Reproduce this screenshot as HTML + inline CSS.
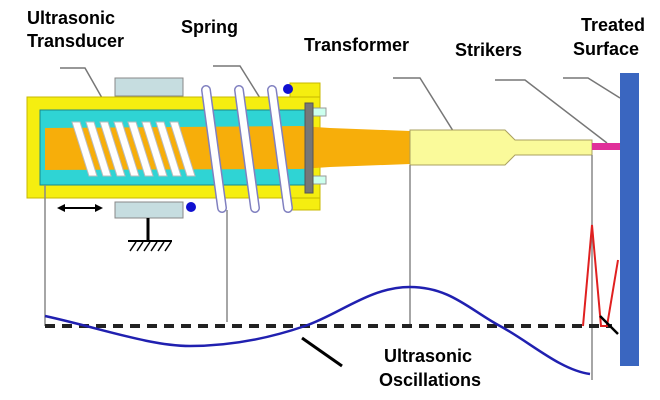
<!DOCTYPE html>
<html><head><meta charset="utf-8"><style>
html,body{margin:0;padding:0;background:#fff;}
svg{display:block;}
text{font-family:"Liberation Sans",Arial,sans-serif;font-weight:bold;font-size:18px;fill:#000;}
</style></head><body>
<svg width="660" height="400" viewBox="0 0 660 400" xmlns="http://www.w3.org/2000/svg">
<rect width="660" height="400" fill="#fff"/>
<g stroke="#777" stroke-width="1.5" fill="none">
<polyline points="60,68 85,68 110,112"/>
<polyline points="213,66 240,66 275,122"/>
<polyline points="393,78 420,78 455,134"/>
<polyline points="495,80 525,80 607,143"/>
<polyline points="563,78 588,78 620,98"/>
</g>
<rect x="115" y="78" width="68" height="18" fill="#c6dde0" stroke="#888"/>
<rect x="115" y="202" width="68" height="16" fill="#c6dde0" stroke="#888"/>
<rect x="290" y="83" width="30" height="127" fill="#f5ee10" stroke="#c8b800"/>
<rect x="27" y="97" width="293" height="101" fill="#f5ee10" stroke="#c8b800"/>
<rect x="40" y="110" width="270" height="75" fill="#2fd4d4" stroke="#1a8a8a"/>
<polygon points="45,128 300,126 330,128 410,131 410,164 330,167 300,169 45,170" fill="#f7ae0a"/>
<g stroke="#bbb" stroke-width="1" fill="#fff">
<polygon points="72,122 80,122 97,176 89,176"/>
<polygon points="86,122 94,122 111,176 103,176"/>
<polygon points="100,122 108,122 125,176 117,176"/>
<polygon points="114,122 122,122 139,176 131,176"/>
<polygon points="128,122 136,122 153,176 145,176"/>
<polygon points="142,122 150,122 167,176 159,176"/>
<polygon points="156,122 164,122 181,176 173,176"/>
<polygon points="170,122 178,122 195,176 187,176"/>
</g>
<rect x="312" y="108" width="14" height="8" fill="#cfe" stroke="#999"/>
<rect x="312" y="176" width="14" height="8" fill="#cfe" stroke="#999"/>
<rect x="305" y="103" width="8" height="90" fill="#777" stroke="#555"/>
<g fill="none" stroke="#8080c0" stroke-width="10" stroke-linecap="round">
<line x1="206" y1="90" x2="222" y2="208"/>
<line x1="239" y1="90" x2="255" y2="208"/>
<line x1="272" y1="90" x2="288" y2="208"/>
</g>
<g fill="none" stroke="#fff" stroke-width="7" stroke-linecap="round">
<line x1="206" y1="90" x2="222" y2="208"/>
<line x1="239" y1="90" x2="255" y2="208"/>
<line x1="272" y1="90" x2="288" y2="208"/>
</g>
<circle cx="288" cy="89" r="5" fill="#1010d0"/>
<circle cx="191" cy="207" r="5" fill="#1010d0"/>
<polygon points="410,130 505,130 515,140 592,140 592,155 515,155 505,165 410,165" fill="#fafa9a" stroke="#aaa060"/>
<rect x="592" y="143" width="28" height="7" fill="#e0309a"/>
<rect x="620" y="73" width="19" height="293" fill="#3a66c0"/>
<line x1="148" y1="218" x2="148" y2="240" stroke="#000" stroke-width="3"/>
<line x1="128" y1="241" x2="172" y2="241" stroke="#000" stroke-width="2"/>
<g stroke="#000" stroke-width="1.5">
<line x1="130" y1="251" x2="136" y2="242"/><line x1="137" y1="251" x2="143" y2="242"/><line x1="144" y1="251" x2="150" y2="242"/><line x1="151" y1="251" x2="157" y2="242"/><line x1="158" y1="251" x2="164" y2="242"/><line x1="165" y1="251" x2="171" y2="242"/>
</g>
<line x1="62" y1="208" x2="98" y2="208" stroke="#000" stroke-width="2"/>
<polygon points="57,208 65,204 65,212" fill="#000"/>
<polygon points="103,208 95,204 95,212" fill="#000"/>
<g stroke="#888" stroke-width="1.5">
<line x1="45" y1="185" x2="45" y2="326"/>
<line x1="227" y1="210" x2="227" y2="322"/>
<line x1="410" y1="165" x2="410" y2="326"/>
<line x1="592" y1="155" x2="592" y2="380"/>
</g>
<line x1="45" y1="326" x2="612" y2="326" stroke="#222" stroke-width="4" stroke-dasharray="10,7"/>
<path d="M45,316 C100,328 150,346 190,346 S270,338 305,326 S370,287 410,287 S470,310 500,326 S560,370 590,374" fill="none" stroke="#2020b0" stroke-width="2.5"/>
<polyline points="583,326 592,225 601,326 607,326 618,260" fill="none" stroke="#e02020" stroke-width="2"/>
<line x1="600" y1="316" x2="618" y2="334" stroke="#000" stroke-width="2.5"/>
<line x1="302" y1="338" x2="342" y2="366" stroke="#000" stroke-width="3"/>
<text x="27" y="24">Ultrasonic</text>
<text x="27" y="47">Transducer</text>
<text x="181" y="33">Spring</text>
<text x="304" y="51">Transformer</text>
<text x="455" y="56">Strikers</text>
<text x="581" y="31">Treated</text>
<text x="573" y="55">Surface</text>
<text x="384" y="362">Ultrasonic</text>
<text x="379" y="386">Oscillations</text>
</svg>
</body></html>
